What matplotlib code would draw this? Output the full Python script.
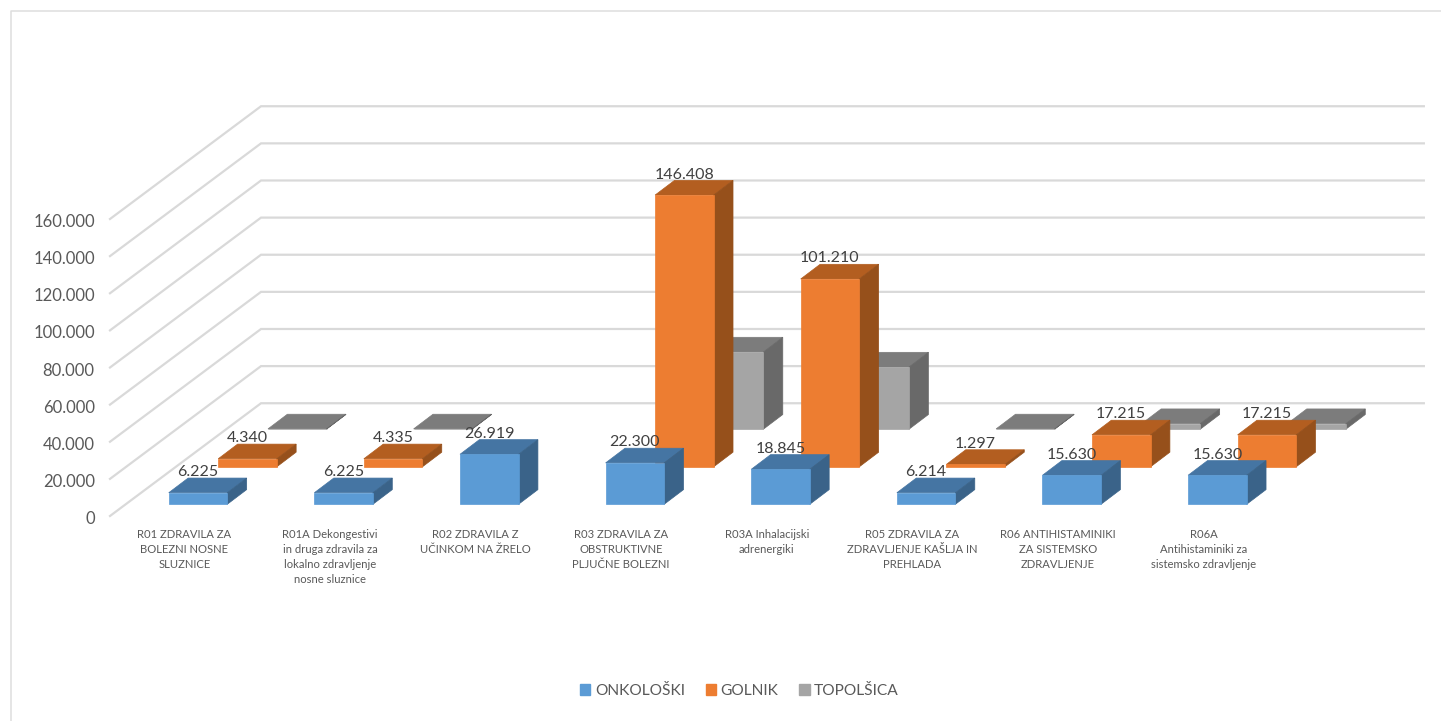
import matplotlib
matplotlib.use('Agg')
import matplotlib.pyplot as plt
from matplotlib.patches import Polygon, Patch
from matplotlib.lines import Line2D
from matplotlib.transforms import ScaledTranslation

categories = ['R01 ZDRAVILA ZA\nBOLEZNI NOSNE\nSLUZNICE',
              'R01A Dekongestivi\nin druga zdravila za\nlokalno zdravljenje\nnosne sluznice',
              'R02 ZDRAVILA Z\nUČINKOM NA ŽRELO',
              'R03 ZDRAVILA ZA\nOBSTRUKTIVNE\nPLJUČNE BOLEZNI',
              'R03A Inhalacijski\nadrenergiki',
              'R05 ZDRAVILA ZA\nZDRAVLJENJE KAŠLJA IN\nPREHLADA',
              'R06 ANTIHISTAMINIKI\nZA SISTEMSKO\nZDRAVLJENJE',
              'R06A\nAntihistaminiki za\nsistemsko zdravljenje']
onkoloski = [6225, 6225, 26919, 22300, 18845, 6214, 15630, 15630]
golnik = [4340, 4335, None, 146408, 101210, 1297, 17215, 17215]
topolsica = [150, 150, None, 41600, 33500, 150, 3000, 3000]
y_ticks = [0, 20000, 40000, 60000, 80000, 100000, 120000, 140000, 160000]

plt.rcParams['font.family'] = ['Lato', 'DejaVu Sans']

W, H = 1441, 721
fig = plt.figure(figsize=(W / 100, H / 100), dpi=100)
ax = fig.add_axes([110 / W, (H - 516) / H, 1165 / W, 297 / H])
ax.set_xlim(0, 8)
ax.set_ylim(0, 160000)
for s in ax.spines.values():
    s.set_visible(False)
ax.patch.set_visible(False)

# oblique depth: how far the back wall is shifted, in data units
DEPTH_X = 151 / 145.6
BAR_DEPTH_X = 149 / 145.6
DEPTH_Y = 60750


def proj(x, v, d, dx=DEPTH_X):
    return x + d * dx, v + d * DEPTH_Y


def bproj(x, v, d):
    return proj(x, v, d, BAR_DEPTH_X)


# gridlines: slanted side wall and horizontal back wall
for v in y_ticks:
    xs, ys = zip(proj(0, v, 0), proj(0, v, 1), proj(7.985, v, 1))
    ax.plot(xs, ys, color='#d9d9d9', lw=1.6, clip_on=False, zorder=1,
            solid_joinstyle='miter')

BAR_X = 0.297
BAR_W = 0.402
BAR_D = 0.13
series = [
    ('TOPOLŠICA', topolsica, 0.77, '#a5a5a5', '#7c7c7c', '#696969', False),
    ('GOLNIK', golnik, 0.436, '#ed7d31', '#b35e20', '#96501b', True),
    ('ONKOLOŠKI', onkoloski, 0.104, '#5b9bd5', '#4575a3', '#3a6389', True),
]


def poly(points, color, z):
    ax.add_patch(Polygon(points, closed=True, facecolor=color, edgecolor=color,
                         lw=0.5, clip_on=False, zorder=z))


z = 2
for name, vals, depth, front, top, side, labelled in series:
    for i, v in enumerate(vals):
        if v is None:
            continue
        x0 = i + BAR_X
        x1 = x0 + BAR_W
        d0 = depth
        d1 = depth + BAR_D
        poly([bproj(x0, v, d0), bproj(x1, v, d0), bproj(x1, v, d1), bproj(x0, v, d1)], top, z)
        poly([bproj(x1, 0, d0), bproj(x1, 0, d1), bproj(x1, v, d1), bproj(x1, v, d0)], side, z)
        poly([bproj(x0, 0, d0), bproj(x1, 0, d0), bproj(x1, v, d0), bproj(x0, v, d0)], front, z)
        if labelled:
            ly = bproj(x0, v, d1)[1]
            lx = bproj(x0 + BAR_W / 2, v, d0)[0]
            ax.annotate(f'{v:,.0f}'.replace(',', '.'), (lx, ly), xytext=(0, 4.2),
                        textcoords='offset points', ha='center', va='center',
                        fontsize=11.5, color='#404040', zorder=20, annotation_clip=False)
    z += 1

ax.set_yticks(y_ticks)
ax.set_yticklabels([f'{v:,.0f}'.replace(',', '.') for v in y_ticks])
ax.tick_params(axis='y', length=0, pad=11, labelsize=12, labelcolor='#595959')
shift = ScaledTranslation(0, -1.5 / 100, fig.dpi_scale_trans)
for lab in ax.get_yticklabels():
    lab.set_transform(lab.get_transform() + shift)
ax.set_xticks([i + 0.51 for i in range(8)])
ax.set_xticklabels(categories, linespacing=1.45)
ax.tick_params(axis='x', length=0, pad=9, labelsize=8.1, labelcolor='#595959')

handles = [Patch(color='#5b9bd5', label='ONKOLOŠKI'),
           Patch(color='#ed7d31', label='GOLNIK'),
           Patch(color='#a5a5a5', label='TOPOLŠICA')]
fig.legend(handles=handles, loc='center', bbox_to_anchor=(739.5 / W, 1 - 691 / H), ncols=3,
           frameon=False, fontsize=11.2, labelcolor='#595959', handlelength=0.65,
           handleheight=0.65, handletextpad=0.3, columnspacing=1.35)

# chart frame
fig.add_artist(Line2D([11 / W, 11 / W, 1], [0, 1 - 11 / H, 1 - 11 / H], color='#dedede', lw=1.1))

fig.savefig('out.png', dpi=100)
